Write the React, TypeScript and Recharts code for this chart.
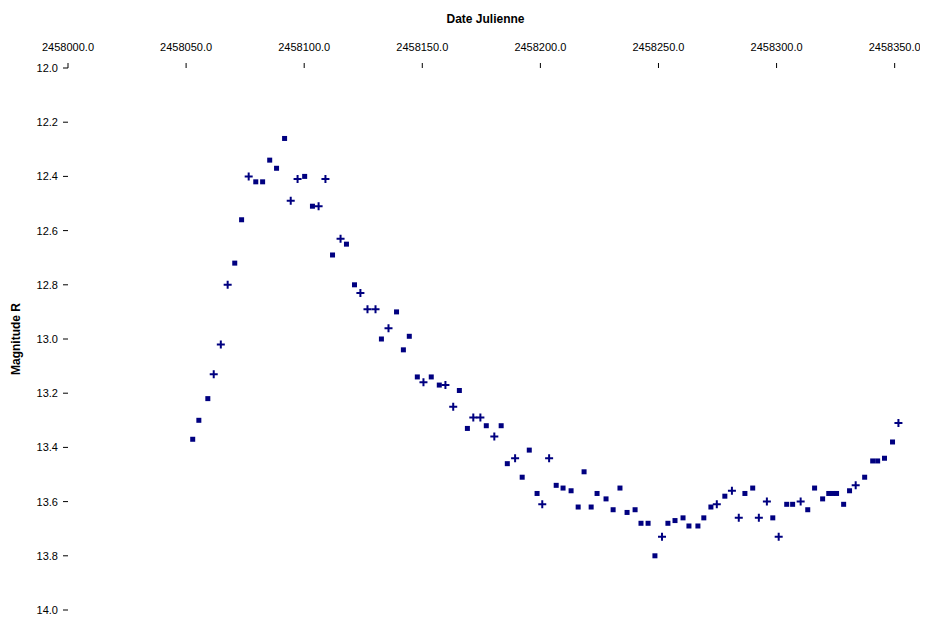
import React from "react";
import { Scatter, ScatterChart, XAxis, YAxis } from "recharts";

// Julian dates of the ticks along the top axis
const xTicks = [
  2458000, 2458050, 2458100, 2458150, 2458200, 2458250, 2458300, 2458350,
];
const yTicks = [
  12.0, 12.2, 12.4, 12.6, 12.8, 13.0, 13.2, 13.4, 13.6, 13.8, 14.0,
];

// observations drawn with square markers
const squareJd = [
  2458052.8, 2458055.4, 2458059.2, 2458070.6, 2458073.5, 2458079.5, 2458082.4,
  2458085.4, 2458088.3, 2458091.7, 2458100.2, 2458103.5, 2458112.0, 2458117.9,
  2458121.3, 2458132.7, 2458139.1, 2458142.0, 2458144.5, 2458147.9, 2458153.8,
  2458157.2, 2458165.7, 2458169.1, 2458177.1, 2458183.4, 2458186.0, 2458192.3,
  2458195.3, 2458198.6, 2458206.7, 2458209.6, 2458213.0, 2458216.0, 2458218.5,
  2458221.5, 2458224.0, 2458227.8, 2458230.8, 2458233.7, 2458236.7, 2458240.1,
  2458242.6, 2458245.6, 2458248.5, 2458254.0, 2458257.0, 2458260.4, 2458262.9,
  2458266.7, 2458269.2, 2458272.2, 2458278.1, 2458286.6, 2458289.9, 2458298.4,
  2458304.3, 2458306.8, 2458313.2, 2458316.1, 2458319.5, 2458322.1, 2458323.8,
  2458325.4, 2458328.4, 2458330.9, 2458337.3, 2458340.7, 2458342.8, 2458345.7,
  2458349.1,
];
const squareMag = [
  13.37, 13.3, 13.22, 12.72, 12.56, 12.42, 12.42, 12.34, 12.37, 12.26, 12.4,
  12.51, 12.69, 12.65, 12.8, 13.0, 12.9, 13.04, 12.99, 13.14, 13.14, 13.17,
  13.19, 13.33, 13.32, 13.32, 13.46, 13.51, 13.41, 13.57, 13.54, 13.55, 13.56,
  13.62, 13.49, 13.62, 13.57, 13.59, 13.63, 13.55, 13.64, 13.63, 13.68, 13.68,
  13.8, 13.68, 13.67, 13.66, 13.69, 13.69, 13.66, 13.62, 13.58, 13.57, 13.55,
  13.66, 13.61, 13.61, 13.63, 13.55, 13.59, 13.57, 13.57, 13.57, 13.61, 13.56,
  13.51, 13.45, 13.45, 13.44, 13.38,
];

// observations drawn with cross markers
const crossJd = [
  2458061.7, 2458064.7, 2458067.6, 2458076.5, 2458094.3, 2458097.2, 2458106.1,
  2458109.0, 2458115.4, 2458123.8, 2458126.8, 2458130.2, 2458135.7, 2458150.5,
  2458159.8, 2458163.1, 2458171.6, 2458174.6, 2458180.5, 2458189.3, 2458200.8,
  2458203.7, 2458251.5, 2458274.7, 2458281.1, 2458284.0, 2458292.5, 2458295.9,
  2458300.9, 2458310.2, 2458333.5, 2458351.6,
];
const crossMag = [
  13.13, 13.02, 12.8, 12.4, 12.49, 12.41, 12.51, 12.41, 12.63, 12.83, 12.89,
  12.89, 12.96, 13.16, 13.17, 13.25, 13.29, 13.29, 13.36, 13.44, 13.61, 13.44,
  13.73, 13.61, 13.56, 13.66, 13.66, 13.6, 13.73, 13.6, 13.54, 13.31,
];

const squares = squareJd.map((jd, i) => ({ jd, mag: squareMag[i] }));
const crosses = crossJd.map((jd, i) => ({ jd, mag: crossMag[i] }));

const NAVY = "#000080";

const SquareDot = (props: any) => {
  const { cx, cy } = props;
  return <rect x={cx - 2.5} y={cy - 2.5} width={5} height={5} fill={NAVY} />;
};

const CrossDot = (props: any) => {
  const { cx, cy } = props;
  return (
    <path
      d={`M${cx - 4},${cy}H${cx + 4}M${cx},${cy - 4}V${cy + 4}`}
      stroke={NAVY}
      strokeWidth={2}
    />
  );
};

export default function App() {
  return (
    <div style={{ fontFamily: "'Liberation Sans', Arial, sans-serif" }}>
      <ScatterChart
        width={920}
        height={612}
        margin={{ top: 0, right: 5, bottom: 10, left: 0 }}
      >
        <XAxis
          type="number"
          dataKey="jd"
          orientation="top"
          height={60}
          domain={[2458000, 2458362]}
          ticks={xTicks}
          allowDataOverflow
          tickFormatter={(v: number) => v.toFixed(1)}
          tick={{ fontSize: 11, fill: "#000" }}
          tickSize={5}
          tickMargin={12}
          tickLine={{ stroke: "#000" }}
          axisLine={false}
          label={{
            value: "Date Julienne",
            position: "insideTop",
            offset: 6,
            dx: -10,
            style: { fontSize: 12, fontWeight: "bold", fill: "#000" },
          }}
        />
        <YAxis
          type="number"
          dataKey="mag"
          reversed
          width={60}
          domain={[12, 14]}
          ticks={yTicks}
          allowDataOverflow
          tickFormatter={(v: number) => v.toFixed(1)}
          tick={{ fontSize: 11, fill: "#000" }}
          tickSize={5}
          tickMargin={5}
          tickLine={{ stroke: "#000" }}
          axisLine={false}
          label={{
            value: "Magnitude R",
            angle: -90,
            position: "insideLeft",
            offset: 8,
            style: {
              fontSize: 12,
              fontWeight: "bold",
              fill: "#000",
              textAnchor: "middle",
            },
          }}
        />
        <Scatter
          data={squares}
          shape={SquareDot}
          fill={NAVY}
          isAnimationActive={false}
        />
        <Scatter
          data={crosses}
          shape={CrossDot}
          fill={NAVY}
          isAnimationActive={false}
        />
      </ScatterChart>
    </div>
  );
}
